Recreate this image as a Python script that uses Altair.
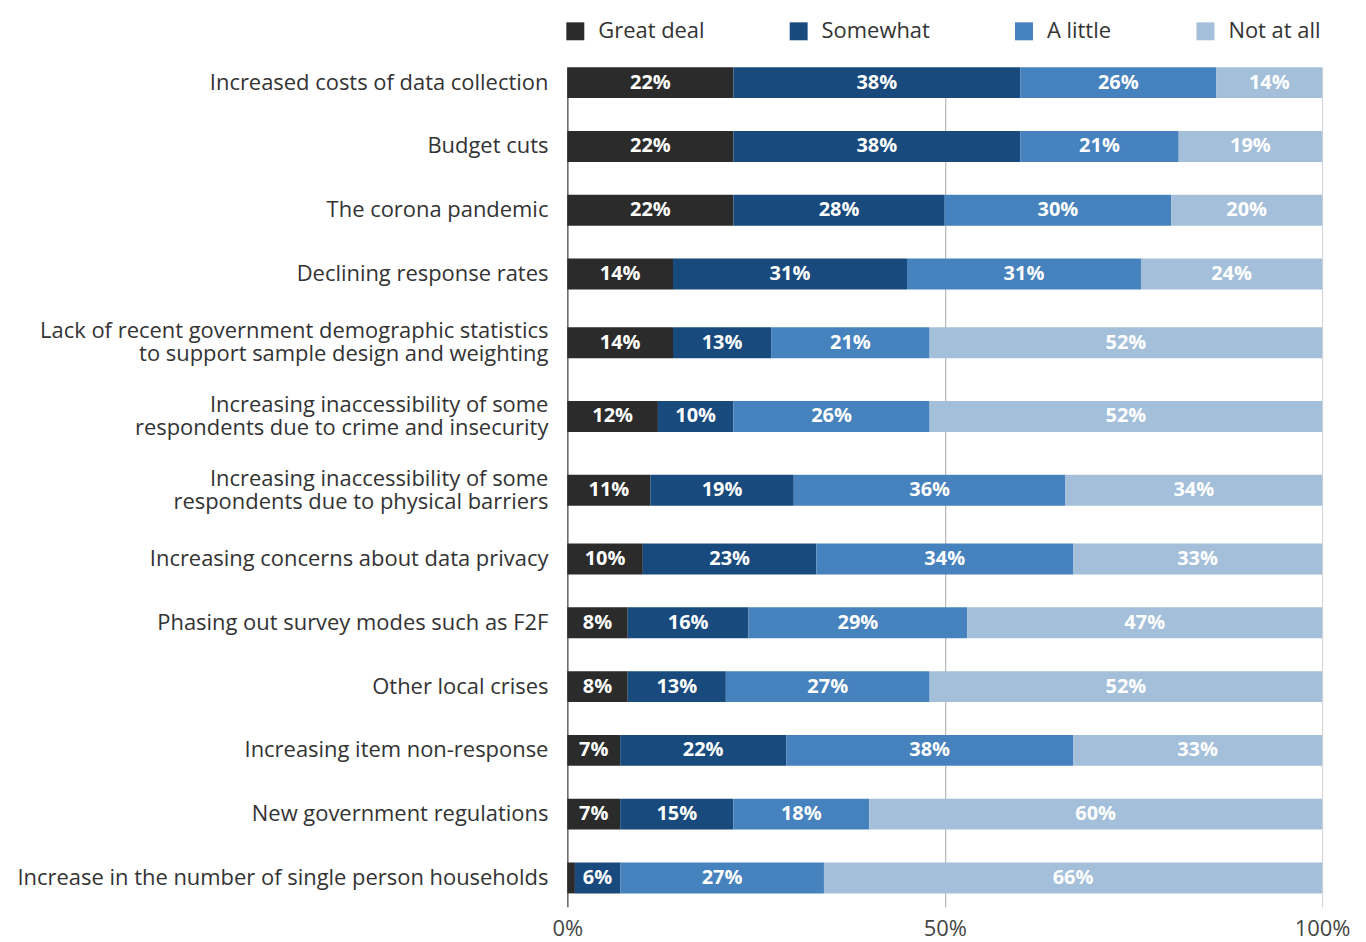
import altair as alt
import pandas as pd

categories = [
    "Increased costs of data collection",
    "Budget cuts",
    "The corona pandemic",
    "Declining response rates",
    "Lack of recent government demographic statistics|to support sample design and weighting",
    "Increasing inaccessibility of some|respondents due to crime and insecurity",
    "Increasing inaccessibility of some|respondents due to physical barriers",
    "Increasing concerns about data privacy",
    "Phasing out survey modes such as F2F",
    "Other local crises",
    "Increasing item non-response",
    "New government regulations",
    "Increase in the number of single person households",
]
series = ["Great deal", "Somewhat", "A little", "Not at all"]
great_deal = [22, 22, 22, 14, 14, 12, 11, 10, 8, 8, 7, 7, 1]
somewhat = [38, 38, 28, 31, 13, 10, 19, 23, 16, 13, 22, 15, 6]
a_little = [26, 21, 30, 31, 21, 26, 36, 34, 29, 27, 38, 18, 27]
not_at_all = [14, 19, 20, 24, 52, 52, 34, 33, 47, 52, 33, 60, 66]
colors = ["#2b2b2b", "#184a7d", "#4682bd", "#a4bfda"]
x_ticks = [0, 50, 100]

# row slots: two-line labels get a slightly taller slot
TWO_LINE_SLOT = 74 / 64
slot_center = {}
acc = 0.0
for cat in categories:
    w = TWO_LINE_SLOT if "|" in cat else 1.0
    slot_center[cat] = acc + w / 2
    acc += w

rows = []
for k, (name, vals) in enumerate(zip(series, [great_deal, somewhat, a_little, not_at_all])):
    for cat, v in zip(categories, vals):
        rows.append({"cat": cat, "series": name, "k": k, "value": v,
                     "row": slot_center[cat], "nl": cat.count("|") + 1})
df = pd.DataFrame(rows)

FONT = "Open Sans"
LINE_UNITS = 23 / 64

yscale = alt.Scale(domain=[0.258, 13.42], reverse=True, nice=False, zero=False, padding=0)

base = alt.Chart(df).transform_stack(
    stack="value", groupby=["cat"], as_=["v0", "v1"], sort=[alt.SortField("k")]
).transform_calculate(
    mid="(datum.v0 + datum.v1) / 2",
    lbl="datum.value + '%'",
)

bars = base.mark_bar(orient="horizontal", size=31).encode(
    x=alt.X(
        "v0:Q",
        scale=alt.Scale(domain=[0, 100], nice=False, padding=0),
        title=None,
        axis=alt.Axis(
            values=x_ticks,
            labelExpr="datum.value + '%'",
            labelFont=FONT,
            labelFontSize=22,
            labelColor="#444444",
            labelPadding=12,
            labelFlush=False,
            ticks=False,
            domain=False,
            grid=True,
            gridColor=alt.condition("datum.value == 100", alt.value("#d0d0d0"), alt.value("#a8a8a8")),
        ),
    ),
    x2="v1:Q",
    y=alt.Y(
        "row:Q",
        scale=yscale,
        title=None,
        axis=alt.Axis(labels=False, ticks=False, grid=False, domain=True,
                      domainColor="#555555", domainWidth=1.2),
    ),
    color=alt.Color(
        "series:N",
        scale=alt.Scale(domain=series, range=colors),
        sort=series,
        title=None,
        legend=alt.Legend(
            orient="none",
            legendX=-3,
            legendY=-47,
            direction="horizontal",
            symbolType="square",
            symbolSize=324,
            symbolStrokeWidth=0,
            symbolOpacity=1,
            labelFont=FONT,
            labelFontSize=22,
            labelColor="#333333",
            labelOffset=12,
            columnPadding=83,
            padding=0,
        ),
    ),
    order=alt.Order("k:Q"),
)

text = base.transform_filter("datum.value >= 3").mark_text(
    font=FONT, fontSize=20, fontWeight="bold", color="white", baseline="middle", align="center"
).encode(
    x="mid:Q",
    y=alt.Y("row:Q", scale=yscale),
    text="lbl:N",
)

row_labels = alt.Chart(df).transform_filter(
    alt.datum.k == 0
).transform_calculate(
    ly=f"datum.row - (datum.nl - 1) * {LINE_UNITS} / 2"
).mark_text(
    font=FONT, fontSize=22, color="#333333", align="right", baseline="middle",
    dx=-19, lineBreak="|", lineHeight=23,
).encode(
    x=alt.value(0),
    y=alt.Y("ly:Q", scale=yscale),
    text="cat:N",
)

chart = alt.layer(bars, text, row_labels).properties(
    width=757,
    height=842,
    autosize=alt.AutoSizeParams(type="none"),
    padding={"left": 561, "top": 58, "right": 36, "bottom": 34},
    background="white",
).configure_view(stroke=None)

chart.save("out.html", embed_options={"renderer": "svg", "actions": False})
